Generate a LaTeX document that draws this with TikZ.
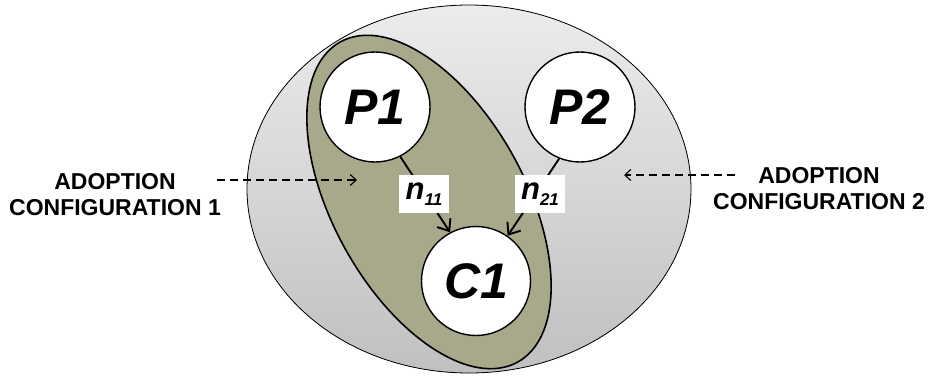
\documentclass[tikz,border=0pt]{standalone}
\usepackage{fontspec}
\setmainfont{Liberation Sans}
\usetikzlibrary{arrows.meta}
\definecolor{olive}{RGB}{168,168,138}
\definecolor{gtop}{RGB}{236,236,236}
\definecolor{gbot}{RGB}{192,192,192}
\tikzset{
  pcircle/.style={circle, draw=black, fill=white, line width=1.4pt, minimum size=110pt, inner sep=0pt,
     font=\fontsize{50}{50}\selectfont\bfseries\itshape},
  lbox/.style={fill=white, minimum width=50pt, minimum height=38pt, inner sep=0pt,
     font=\fontsize{31}{31}\selectfont\bfseries\itshape},
  arr/.style={line width=1.9pt, -{Straight Barb[length=10pt, width=16pt, line width=1.9pt]}},
  dasharr/.style={line width=1.1pt, dash pattern=on 8pt off 5pt, -{Straight Barb[length=6pt, width=11pt, line width=1.1pt]}},
  cfg/.style={align=center, font=\fontsize{23}{26}\selectfont\bfseries}
}
\newcommand{\subn}[1]{\raisebox{-0.35ex}{\fontsize{17}{17}\selectfont #1}}
\begin{document}
\begin{tikzpicture}[x=1pt, y=1pt]
\useasboundingbox (0,0) rectangle (930,-376);
% outer ellipse
\fill[top color=gtop, bottom color=gbot] (469,-189) ellipse [x radius=222, y radius=184];
\draw[line width=0.8pt] (469,-189) ellipse [x radius=222, y radius=184];
% olive ellipse
\draw[fill=olive, line width=1.6pt] (429,-202) ellipse [x radius=183, y radius=96, rotate=-61];
% nodes
\node[pcircle] (P1) at (375,-107) {P1};
\node[pcircle] (P2) at (580,-107) {P2};
\node[pcircle, minimum size=109pt] (C1) at (476,-281) {C1};
% arrows
\draw[arr] (P1.-63) -- (C1.118);
\draw[arr] (P2.-112) -- (C1.55);
\node[lbox] (n11) at (424,-194) {n\subn{11}};
\node[lbox] (n21) at (540,-194) {n\subn{21}};
% side labels
\node[cfg] (t1) at (115,-195) {ADOPTION\\CONFIGURATION 1};
\node[cfg] (t2) at (819,-188.5) {ADOPTION\\CONFIGURATION 2};
\coordinate (a1s) at (217,-180);
\coordinate (a1e) at (357,-180);
\coordinate (a2s) at (735,-175);
\coordinate (a2e) at (624,-175);
\draw[dasharr] (a1s) -- (a1e);
\draw[dasharr] (a2s) -- (a2e);
\end{tikzpicture}
\end{document}
